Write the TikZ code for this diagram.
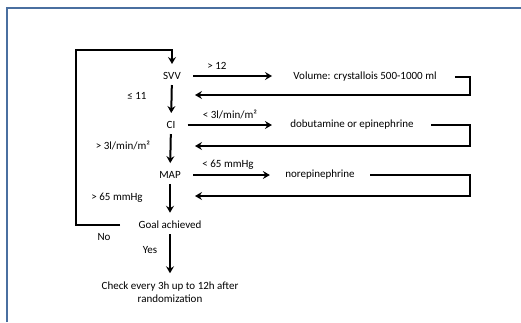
\documentclass[tikz,border=0pt]{standalone}
\usepackage{fontspec}
\setmainfont{Carlito}
\usepackage{tikz}
\usetikzlibrary{arrows.meta}
\definecolor{framecol}{RGB}{74,111,160}

\begin{document}
\begin{tikzpicture}[thick, every node/.style={font=\fontsize{11}{13}\selectfont, inner sep=3pt},
		line/.style={line width=2pt, color=black},
		arr/.style={line, -{Stealth[length=7pt, width=8pt, inset=2.5pt]}}]
				% [frame and page size]
				\useasboundingbox (0pt, 0pt) rectangle (521pt, -322pt);
				\draw [line width=2pt, color=framecol] (7pt, -322pt) -- (7pt, -8pt) -- (521pt, -8pt);
				\node (svv) at (172pt, -76pt) {SVV};
				\node (ci) at (171pt, -125pt) {CI};
				\node (map) at (170pt, -175pt) {MAP};
				\node (goal) at (170pt, -225pt) {Goal achieved};
				\node (check) [align=center] at (170pt, -292pt) {Check every 3h up to 12h after\\randomization};
				\node (vol) at (365pt, -77pt) {Volume: crystallois 500-1000 ml};
				\node (dob) at (352pt, -125pt) {dobutamine or epinephrine};
				\node (nor) at (320pt, -175pt) {norepinephrine};
				\coordinate (top) at (76pt, -50pt);
				\coordinate (right) at (470pt, 0pt);
				\coordinate (back1) at (195pt, -95pt);
				\coordinate (back2) at (195pt, -146pt);
				\coordinate (back3) at (195pt, -196pt);
				\draw [arr, shorten >=5pt] ([xshift=-15pt]goal.west) -| (top) -| (svv);
				\draw [arr, shorten <=2pt, shorten >=5pt] (svv) -- (ci);
				\draw [arr, shorten <=2pt, shorten >=5pt] (ci) -- (map);
				\draw [arr, shorten <=2pt, shorten >=5pt] (map) -- (goal);
				\draw [arr, shorten <=2pt, shorten >=5pt] (goal) -- (check);
				\draw [arr, shorten <=9pt, shorten >=18pt] (svv.east) -- (svv.east -| vol.west);
				\draw [arr, shorten <=9pt, shorten >=15pt] (ci.east) -- (ci.east -| dob.west);
				\draw [arr, shorten <=9pt, shorten >=12pt] (map.east) -- (map.east -| nor.west);
				\draw [arr] ([xshift=15pt]vol.east) -- (vol.east -| right) |- (back1);
				\draw [arr] ([xshift=14pt]dob.east) -- (dob.east -| right) |- (back2);
				\draw [arr] ([xshift=12pt]nor.east) -- (nor.east -| right) |- (back3);
				\node (l1) at (217pt, -66pt) {> 12};
				\node (l2) at (137pt, -96pt) {≤ 11};
				\node (l3) at (230pt, -114pt) {< 3l/min/m²};
				\node (l4) at (123pt, -145pt) {> 3l/min/m²};
				\node (l5) at (228pt, -165pt) {< 65 mmHg};
				\node (l6) at (117pt, -198pt) {> 65 mmHg};
				\node (l7) at (104pt, -237pt) {No};
				\node (l8) at (150pt, -250pt) {Yes};
			\end{tikzpicture}
\end{document}
